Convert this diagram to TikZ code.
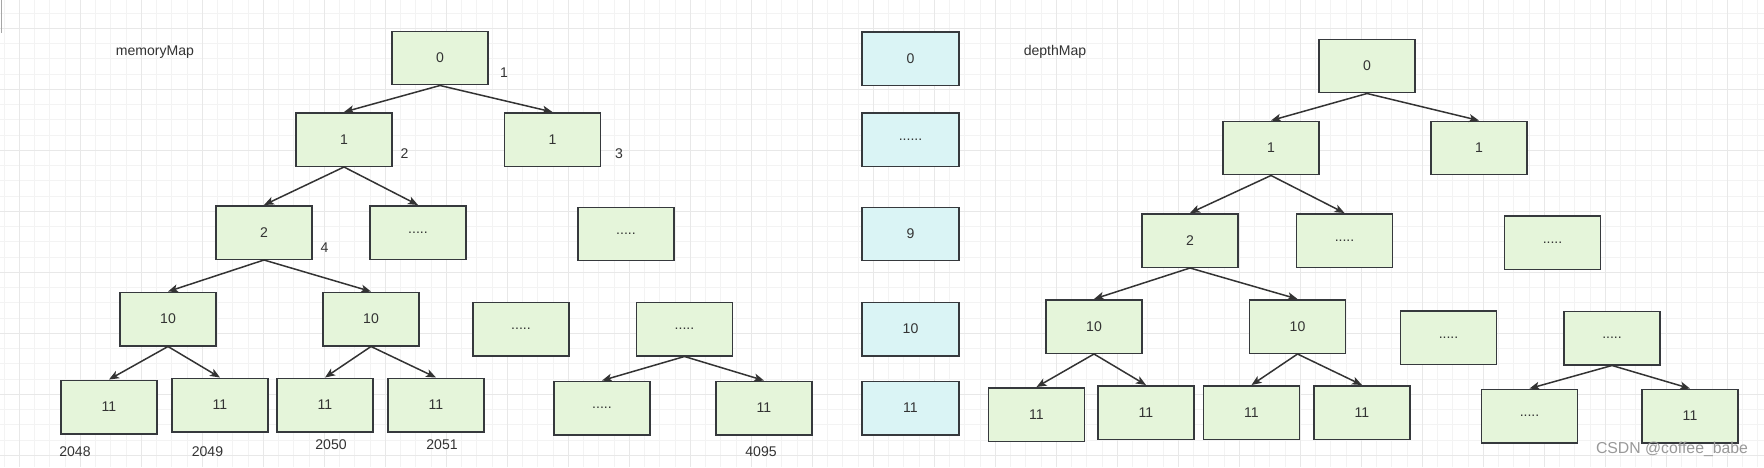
\documentclass[tikz,border=0pt]{standalone}
\usepackage{fontspec}
\setmainfont{Liberation Sans}
\usetikzlibrary{arrows.meta}
\definecolor{boxgreen}{HTML}{E5F5DA}
\definecolor{boxblue}{HTML}{DAF4F5}
\definecolor{boxline}{HTML}{36393D}
\definecolor{txt}{HTML}{333333}
\definecolor{gridminor}{HTML}{F3F3F3}
\definecolor{gridmajor}{HTML}{E8E8E8}
\tikzset{
  box/.style={draw=boxline, fill=boxgreen, line width=0.85pt, minimum width=1.92cm,
    minimum height=1.07cm, inner sep=0pt, text=txt, font=\fontsize{8}{9.6}\selectfont},
  depthbox/.style={box, fill=boxblue, minimum width=1.94cm},
  tag/.style={text=txt, inner sep=0pt, font=\fontsize{8}{9.6}\selectfont},
  link/.style={draw=txt, line width=0.85pt, -{Stealth[length=0.2cm,width=0.16cm,inset=0.05cm]}}
}
\begin{document}
\begin{tikzpicture}[x=0.02cm, y=-0.02cm]
\useasboundingbox[fill=white] (0,0) rectangle (1764,467);
\foreach \x in {4.05,19.3,...,1764} \draw[gridminor, line width=0.5pt] (\x,0) -- (\x,467);
\foreach \y in {13.05,28.3,...,467} \draw[gridminor, line width=0.5pt] (0,\y) -- (1764,\y);
\foreach \x in {19.3,80.3,...,1764} \draw[gridmajor, line width=0.8pt] (\x,0) -- (\x,467);
\foreach \y in {28.3,89.3,...,467} \draw[gridmajor, line width=0.8pt] (0,\y) -- (1764,\y);
\draw[gray!70, line width=1pt] (1.5,0) -- (1.5,33);

\node[tag] (memtitle) at (155,52) {memoryMap};
\node[box] (m0) at (440,58) {0};
\node[box] (m1a) at (344,139.5) {1};
\node[box] (m1b) at (552.5,139.5) {1};
\node[box] (m2a) at (264,232.5) {2};
\node[box] (m2b) at (418,232.5) {.....};
\node[box] (m2c) at (626,234) {.....};
\node[box] (m3a) at (168,319) {10};
\node[box] (m3b) at (371,319) {10};
\node[box] (m3c) at (521,329) {.....};
\node[box] (m3d) at (684.5,329) {.....};
\node[box] (m4a) at (109,407) {11};
\node[box] (m4b) at (220,405) {11};
\node[box] (m4c) at (325,405) {11};
\node[box] (m4d) at (436,405) {11};
\node[box] (m4e) at (602,408) {.....};
\node[box] (m4f) at (764,408) {11};
\node[tag] (idx1) at (504,73) {1};
\node[tag] (idx2) at (404.5,154) {2};
\node[tag] (idx3) at (619,154) {3};
\node[tag] (idx4) at (324.5,248) {4};
\node[tag] (idx2048) at (75,452) {2048};
\node[tag] (idx2049) at (207.5,452) {2049};
\node[tag] (idx2050) at (331,445) {2050};
\node[tag] (idx2051) at (442,445) {2051};
\node[tag] (idx4095) at (761,452) {4095};

\node[depthbox] (b0) at (910.5,58.5) {0};
\node[depthbox] (b1) at (910.5,139.5) {......};
\node[depthbox] (b2) at (910.5,234) {9};
\node[depthbox] (b3) at (910.5,329) {10};
\node[depthbox] (b4) at (910.5,408) {11};

\node[tag] (deptitle) at (1055,52) {depthMap};
\node[box] (d0) at (1367,66) {0};
\node[box] (d1a) at (1271,148) {1};
\node[box] (d1b) at (1479,148) {1};
\node[box] (d2a) at (1190,240.5) {2};
\node[box] (d2b) at (1344.5,240.5) {.....};
\node[box] (d2c) at (1552.5,242.5) {.....};
\node[box] (d3a) at (1094,326.5) {10};
\node[box] (d3b) at (1297.5,326.5) {10};
\node[box] (d3c) at (1448.5,337.7) {.....};
\node[box] (d3d) at (1612,338) {.....};
\node[box] (d4a) at (1036.5,414.5) {11};
\node[box] (d4b) at (1146,412.5) {11};
\node[box] (d4c) at (1251.5,412.5) {11};
\node[box] (d4d) at (1362,412.5) {11};
\node[box] (d4e) at (1529.5,416) {.....};
\node[box] (d4f) at (1690,416) {11};

\foreach \p/\c in {m0/m1a,m0/m1b,m1a/m2a,m1a/m2b,m2a/m3a,m2a/m3b,m3a/m4a,m3a/m4b,
  m3b/m4c,m3b/m4d,m3d/m4e,m3d/m4f,d0/d1a,d0/d1b,d1a/d2a,d1a/d2b,d2a/d3a,d2a/d3b,
  d3a/d4a,d3a/d4b,d3b/d4c,d3b/d4d,d3d/d4e,d3d/d4f}
  \draw[link] (\p.south) -- (\c.north);

\node[text=gray!80, inner sep=0pt, font=\fontsize{9}{10.8}\selectfont] (mark) at (1672,449) {CSDN @coffee\_babe};
\end{tikzpicture}
\end{document}
